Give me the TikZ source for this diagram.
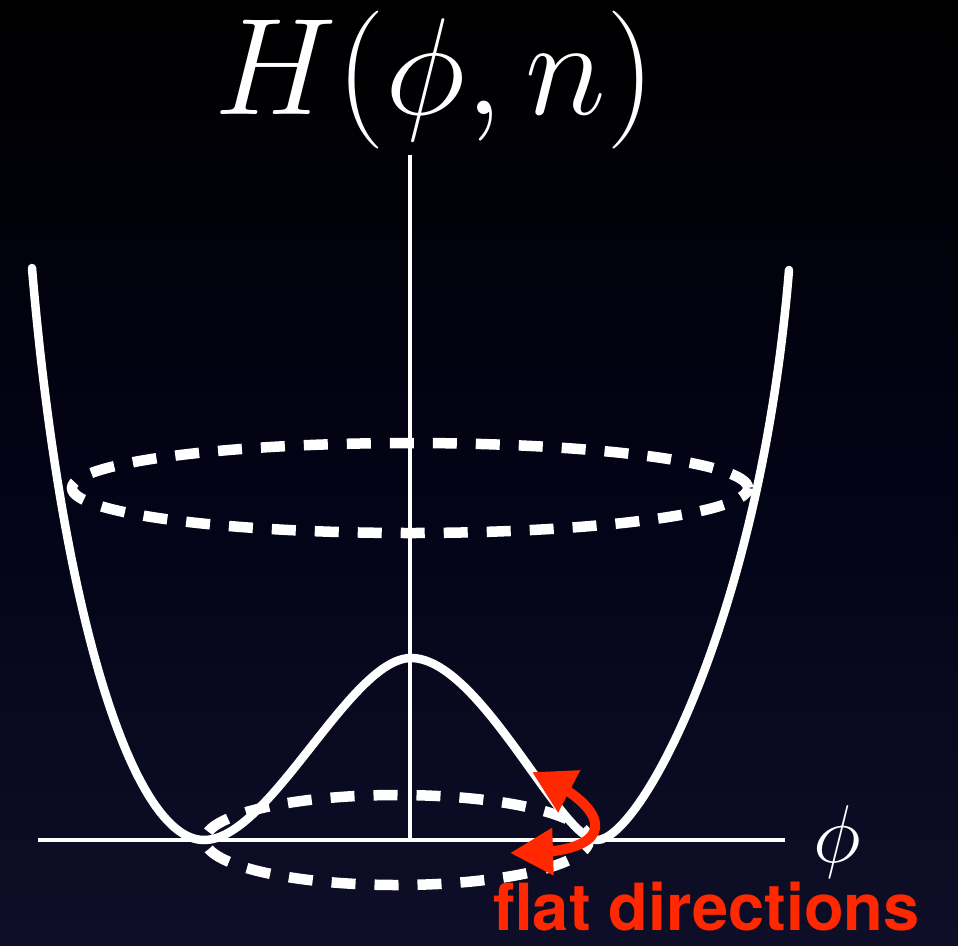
\RequirePackage{fix-cm}
\documentclass[tikz,border=0pt]{standalone}
\usepackage{fontspec}
\newfontfamily\labelfont{TeX Gyre Heros}
\usetikzlibrary{arrows.meta}
\usetikzlibrary{bending}
\definecolor{flatred}{RGB}{255,40,0}
\definecolor{skymid}{RGB}{3,3,22}
\definecolor{skylow}{RGB}{14,14,40}
\definecolor{skybot}{RGB}{30,33,56}
\pgfdeclareverticalshading{sky}{100bp}{color(0bp)=(skybot); color(25bp)=(skylow);
	color(50bp)=(skymid); color(75bp)=(black); color(100bp)=(black)}
\tikzset{
	potential/.style={white, line width=8.5pt, line cap=round, line join=round},
	ringdash/.style={white, line width=10.5pt, dash pattern=on 24pt off 19pt},
	axisline/.style={white, line width=#1},
	flatarrow/.style={flatred, line width=10pt,
		{Triangle[length=43pt, width=45pt]}-{Triangle[length=42pt, width=45pt]}}
}

\begin{document}
\begin{tikzpicture}[x=1pt, y=-1pt]
	\shade[shading=sky] (0,0) rectangle (958,945);
	\useasboundingbox (0,0) rectangle (958,945);

	% axes
	\coordinate (origin) at (410,840);
	\coordinate (axis top) at (410,155);
	\coordinate (axis left) at (38,840);
	\coordinate (axis right) at (785,840);
	\draw[axisline=3.5pt] (axis top) -- (origin);
	\draw[axisline=4.5pt] (axis left) -- (axis right);

	% double well
	\coordinate (left min) at (204,840);
	\coordinate (right min) at (597,840);
	\coordinate (hump) at (411,658);
	\draw[potential] (32,268) .. controls (60,600) and (130,840) .. (left min)
		.. controls (270,840) and (350,658) .. (hump)
		.. controls (480,658) and (560,840) .. (right min)
		.. controls (640,840) and (760,620) .. (789,270);

	% level rings
	\draw[ringdash, dash phase=12pt] (410,488) ellipse (338 and 45);
	\draw[ringdash, dash phase=12pt] (397,840) ellipse (192 and 45);

	% flat directions
	\coordinate (flat low) at (510,853);
	\coordinate (flat high) at (532,772);
	\draw[flatarrow] (flat low) .. controls (628,856) and (612,806) .. (flat high);

	\node[anchor=base, inner sep=0pt, white, font=\fontsize{138}{138}\selectfont] (title) at (435,114) {$H(\phi,n)$};
	\node[inner sep=0pt, white, font=\fontsize{82}{82}\selectfont] (phi label) at (837,842) {$\phi$};
	\node[anchor=base west, inner sep=0pt, flatred, font=\labelfont\bfseries\fontsize{65}{65}\selectfont] (flat label) at (493,930) {flat directions};
\end{tikzpicture}
\end{document}
